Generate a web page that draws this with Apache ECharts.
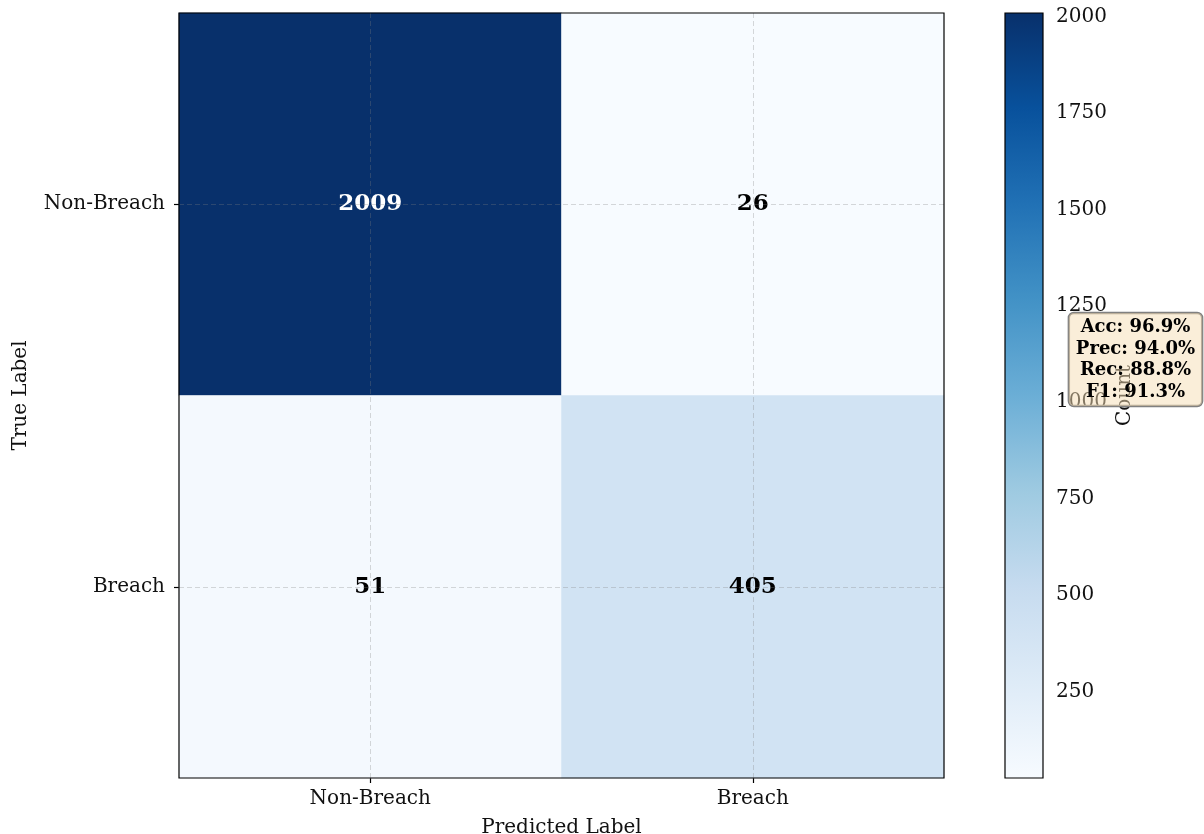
<!DOCTYPE html>
<html>
<head>
<meta charset="utf-8">
<script src="https://cdn.jsdelivr.net/npm/echarts@6/dist/echarts.min.js"></script>
<style>
  html, body { margin: 0; padding: 0; background: #fff; }
  #chart { width: 1204px; height: 834px; }
</style>
</head>
<body>
<div id="chart"></div>
<script>
// Confusion matrix: rows = true label, columns = predicted label
const predictedLabels = ['Non-Breach', 'Breach'];
const trueLabels = ['Non-Breach', 'Breach'];
const counts = [
  [2009, 26],
  [51, 405]
];
const colorbarTicks = [250, 500, 750, 1000, 1250, 1500, 1750, 2000];
const metricLines = ['Acc: 96.9%', 'Prec: 94.0%', 'Rec: 88.8%', 'F1: 91.3%'];

// "Blues" colour ramp, light to dark
const blues = ['#f7fbff', '#deebf7', '#c6dbef', '#9ecae1', '#6baed6',
               '#4292c6', '#2171b5', '#08519c', '#08306b'];

const flat = counts.flat();
const cMin = Math.min(...flat);
const cMax = Math.max(...flat);
const textThreshold = cMax / 2;

const FONT = 'DejaVu Serif';
const TEXT = '#111';

const heatData = [];
counts.forEach((row, r) => {
  row.forEach((v, c) => {
    heatData.push({
      value: [c, r, v],
      label: { color: v > textThreshold ? '#fff' : '#000' }
    });
  });
});

const gradientStops = blues.map((col, i) => ({ offset: i / (blues.length - 1), color: col }));

const chart = echarts.init(document.getElementById('chart'), null, { renderer: 'canvas' });

const option = {
  backgroundColor: '#fff',
  animation: false,
  textStyle: { fontFamily: FONT },
  grid: [
    { left: 179, top: 13, width: 765, height: 765, show: true, z: 10,
      outerBoundsMode: 'none', containLabel: false,
      backgroundColor: 'transparent', borderColor: '#000', borderWidth: 1.2 },
    { left: 1005, top: 13, width: 38, height: 765,
      outerBoundsMode: 'none', containLabel: false }
  ],
  xAxis: [
    {
      type: 'category', gridIndex: 0, data: predictedLabels,
      axisLine: { show: false },
      axisTick: { show: true, alignWithLabel: true, length: 5, lineStyle: { color: '#000', width: 1.2 } },
      axisLabel: { fontSize: 20, color: TEXT, margin: 11, fontFamily: FONT },
      splitLine: { show: false },
      name: 'Predicted Label', nameLocation: 'middle', nameGap: 40,
      nameTextStyle: { fontSize: 20, color: TEXT, fontFamily: FONT }
    },
    { type: 'value', gridIndex: 1, show: false, min: 0, max: 1 }
  ],
  yAxis: [
    {
      type: 'category', gridIndex: 0, data: trueLabels, inverse: true,
      axisLine: { show: false },
      axisTick: { show: true, alignWithLabel: true, length: 5, lineStyle: { color: '#000', width: 1.2 } },
      axisLabel: { fontSize: 20, color: TEXT, margin: 14, fontFamily: FONT },
      splitLine: { show: false },
      name: 'True Label', nameLocation: 'middle', nameGap: 148,
      nameTextStyle: { fontSize: 20, color: TEXT, fontFamily: FONT }
    },
    {
      type: 'value', gridIndex: 1, position: 'right', min: cMin, max: cMax,
      splitLine: { show: false },
      axisLine: { show: false },
      axisTick: { show: true, length: 5, customValues: colorbarTicks, lineStyle: { color: '#000', width: 1.2 } },
      axisLabel: { customValues: colorbarTicks, fontSize: 20, color: TEXT, margin: 13, fontFamily: FONT,
                   formatter: v => String(v) },
      name: 'Count', nameLocation: 'middle', nameGap: 72,
      nameTextStyle: { fontSize: 20, color: TEXT, fontFamily: FONT }
    }
  ],
  visualMap: {
    show: false, type: 'continuous', seriesIndex: 0,
    min: cMin, max: cMax, inRange: { color: blues }
  },
  series: [
    {
      type: 'heatmap', xAxisIndex: 0, yAxisIndex: 0,
      data: heatData,
      label: { show: true, fontSize: 23, fontWeight: 'bold', fontFamily: FONT },
      emphasis: { disabled: true },
      markLine: {
        silent: true, symbol: 'none', animation: false,
        label: { show: false },
        lineStyle: { type: [5, 3], color: 'rgba(128,128,128,0.3)', width: 1 },
        data: [
          ...predictedLabels.map(n => ({ xAxis: n })),
          ...trueLabels.map(n => ({ yAxis: n }))
        ]
      }
    },
    {
      // colour bar body
      type: 'custom', xAxisIndex: 1, yAxisIndex: 1,
      data: [[0, cMin, cMax]],
      silent: true,
      renderItem(params, api) {
        const lo = api.coord([0, api.value(1)]);
        const hi = api.coord([1, api.value(2)]);
        return {
          type: 'rect',
          shape: { x: lo[0], y: hi[1], width: hi[0] - lo[0], height: lo[1] - hi[1] },
          style: {
            fill: new echarts.graphic.LinearGradient(0, 1, 0, 0, gradientStops),
            stroke: '#000', lineWidth: 1.2
          }
        };
      }
    }
  ],
  graphic: [
    {
      type: 'text', z: 100, x: 1135.5, y: 313,
      style: {
        text: metricLines.join('\n'),
        font: 'bold 18px "DejaVu Serif"',
        fill: '#000',
        align: 'center', verticalAlign: 'top',
        lineHeight: 21.5,
        backgroundColor: 'rgba(245,222,179,0.5)',
        borderColor: '#808080', borderWidth: 1.2, borderRadius: 5,
        padding: [4, 7, 3, 7]
      }
    }
  ]
};

chart.setOption(option);
</script>
</body>
</html>
